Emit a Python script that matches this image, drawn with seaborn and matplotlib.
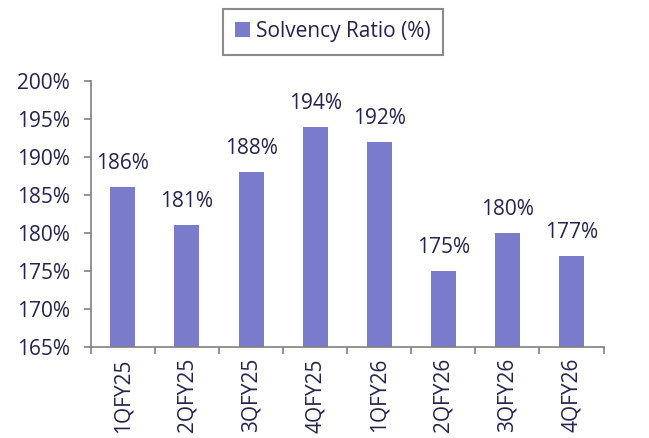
import pandas as pd
import seaborn as sns
import matplotlib.pyplot as plt
from matplotlib.patches import Patch

quarters = ['1QFY25', '2QFY25', '3QFY25', '4QFY25', '1QFY26', '2QFY26', '3QFY26', '4QFY26']
solvency = [186, 181, 188, 194, 192, 175, 180, 177]
yticks = [165, 170, 175, 180, 185, 190, 195, 200]

bar_col = '#7b7bcb'
txt_col = '#23234f'
axis_col = '#808080'
fs = 15

sns.set_theme(style='ticks')
plt.rcParams['font.family'] = ['Open Sans', 'DejaVu Sans']

df = pd.DataFrame({'quarter': quarters, 'ratio': solvency})

fig = plt.figure(figsize=(6.49, 4.38), dpi=100)
ax = fig.add_axes([0.14, 0.208, 0.79, 0.607])
sns.barplot(data=df, x='quarter', y='ratio', color=bar_col, width=0.39,
            saturation=1, linewidth=0, ax=ax)

ax.set_ylim(165, 200)
ax.set_xlim(-0.5, len(quarters) - 0.5)
ax.set_yticks(yticks)
ax.set_yticklabels([f'{v}%' for v in yticks])
ax.set_xlabel('')
ax.set_ylabel('')

for i, v in enumerate(solvency):
    ax.text(i, v + 1.7, f'{v}%', ha='center', va='bottom', fontsize=fs, color=txt_col)

ax.tick_params(axis='y', labelsize=fs, colors=axis_col, labelcolor=txt_col, length=5, width=1.2, pad=10)
ax.tick_params(axis='x', labelsize=fs, labelcolor=txt_col, length=0, rotation=90, pad=8)
# ticks on category boundaries
ax.set_xticks([i - 0.5 for i in range(len(quarters) + 1)], minor=True)
ax.tick_params(axis='x', which='minor', length=5, width=1.2, colors=axis_col)

sns.despine(ax=ax, top=True, right=True)
for s in ['left', 'bottom']:
    ax.spines[s].set_color(axis_col)
    ax.spines[s].set_linewidth(1.2)

handles = [Patch(facecolor=bar_col, edgecolor='none', label='Solvency Ratio (%)')]
leg = fig.legend(handles=handles, loc='center', bbox_to_anchor=(0.513, 0.928),
                 frameon=True, fancybox=False, fontsize=fs, handlelength=0.7,
                 handleheight=0.7, handletextpad=0.3, borderpad=0.6,
                 borderaxespad=0)
leg.get_frame().set_edgecolor('#6e6e6e')
leg.get_frame().set_linewidth(1.5)
for t in leg.get_texts():
    t.set_color(txt_col)

fig.savefig('out.png', dpi=100)
